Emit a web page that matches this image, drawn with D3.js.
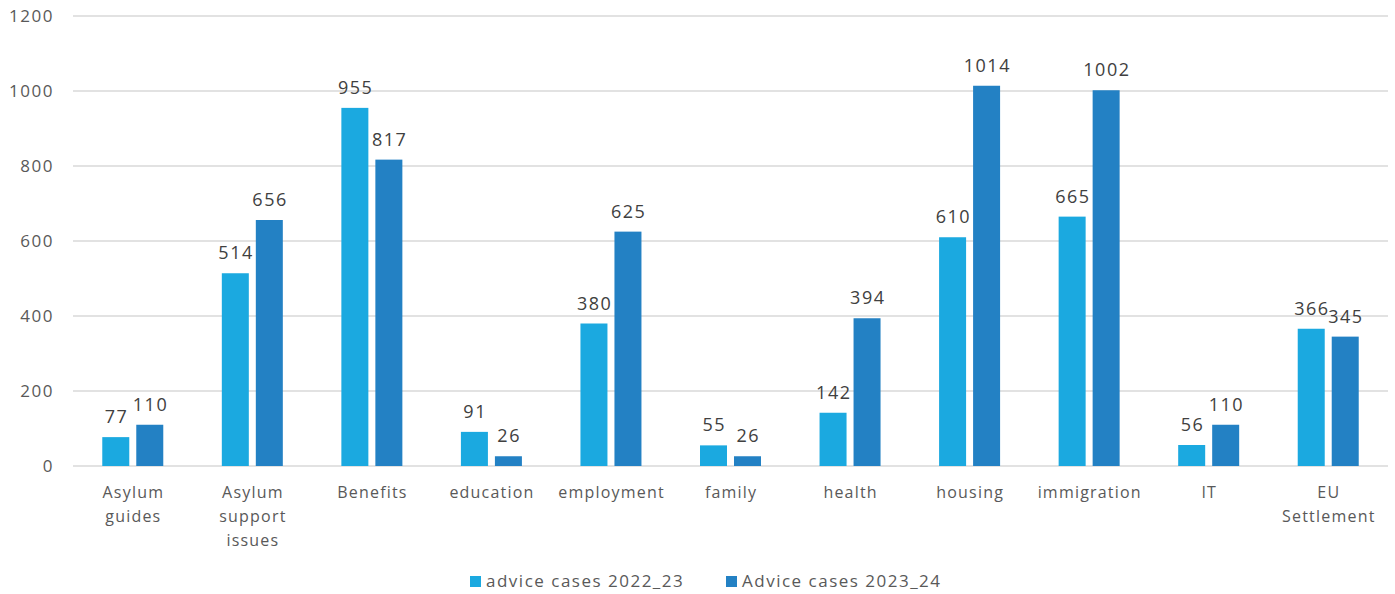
<!DOCTYPE html>
<html>
<head>
<meta charset="utf-8">
<script src="https://cdn.jsdelivr.net/npm/d3@7"></script>
<style>
  html, body { margin: 0; padding: 0; background: #ffffff; }
  svg { display: block; font-family: "Open Sans", "Lato", sans-serif; }
</style>
</head>
<body>
<svg id="chart" width="1395" height="594"></svg>
<script>
// Advice cases by topic, two reporting years
const categories = [
  ["Asylum", "guides"],
  ["Asylum", "support", "issues"],
  ["Benefits"],
  ["education"],
  ["employment"],
  ["family"],
  ["health"],
  ["housing"],
  ["immigration"],
  ["IT"],
  ["EU", "Settlement"]
];
const cases2022_23 = [77, 514, 955, 91, 380, 55, 142, 610, 665, 56, 366];
const cases2023_24 = [110, 656, 817, 26, 625, 26, 394, 1014, 1002, 110, 345];
const seriesNames = ["advice cases 2022_23", "Advice cases 2023_24"];
const yTicks = [0, 200, 400, 600, 800, 1000, 1200];

const colors = ["#1BA9E0", "#2381C4"];
const svg = d3.select("#chart");

const plotLeft = 73, plotRight = 1388, plotTop = 16, plotBottom = 466;
const keys = categories.map((c, i) => i);

const x = d3.scaleBand().domain(keys).range([plotLeft, plotRight]).paddingInner(0).paddingOuter(0);
const y = d3.scaleLinear().domain([0, 1200]).range([plotBottom, plotTop]);

const barW = 27, gap = 7;

// gridlines
svg.append("g")
  .selectAll("line")
  .data(yTicks)
  .join("line")
  .attr("x1", plotLeft).attr("x2", plotRight)
  .attr("y1", d => y(d)).attr("y2", d => y(d))
  .attr("stroke", "#d9d9d9").attr("stroke-width", 1.3);

// y axis labels
const yAxis = d3.axisLeft(y).tickValues(yTicks).tickSize(0).tickPadding(0).tickFormat(d3.format("d"));
const gy = svg.append("g").attr("transform", `translate(${plotLeft - 19},0)`).call(yAxis);
gy.select(".domain").remove();
gy.selectAll("text")
  .attr("fill", "#595959")
  .attr("font-size", 17)
  .attr("letter-spacing", 1.5)
  .attr("font-family", "\"Open Sans\", sans-serif");

const series = [cases2022_23, cases2023_24];
series.forEach((vals, s) => {
  const g = svg.append("g");
  const xPos = i => x(i) + x.bandwidth() / 2 + (s === 0 ? -gap / 2 - barW : gap / 2);
  g.selectAll("rect")
    .data(vals)
    .join("rect")
    .attr("x", (d, i) => xPos(i))
    .attr("y", d => y(d))
    .attr("width", barW)
    .attr("height", d => y(0) - y(d))
    .attr("fill", colors[s]);
  g.selectAll("text")
    .data(vals)
    .join("text")
    .attr("x", (d, i) => xPos(i) + barW / 2 + 0.75)
    .attr("y", d => y(d) - 14)
    .attr("text-anchor", "middle")
    .attr("fill", "#404040")
    .attr("font-size", 18)
    .attr("letter-spacing", 1.5)
    .text(d => d);
});

// category labels
const cat = svg.append("g");
categories.forEach((lines, i) => {
  const cx = x(i) + x.bandwidth() / 2 + 0.6;
  const t = cat.append("text")
    .attr("x", cx)
    .attr("y", 498)
    .attr("text-anchor", "middle")
    .attr("fill", "#595959")
    .attr("font-size", 16)
    .attr("letter-spacing", 1.2);
  lines.forEach((ln, j) => {
    t.append("tspan")
      .attr("x", cx)
      .attr("dy", j === 0 ? 0 : 24)
      .text(ln);
  });
});

// legend
const legend = svg.append("g");
const legendX = [470, 726];
seriesNames.forEach((name, s) => {
  legend.append("rect")
    .attr("x", legendX[s]).attr("y", 576)
    .attr("width", 11).attr("height", 11)
    .attr("fill", colors[s]);
  legend.append("text")
    .attr("x", legendX[s] + 16).attr("y", 587)
    .attr("fill", "#595959")
    .attr("font-size", 17)
    .attr("letter-spacing", 1.5)
    .text(name);
});
</script>
</body>
</html>
